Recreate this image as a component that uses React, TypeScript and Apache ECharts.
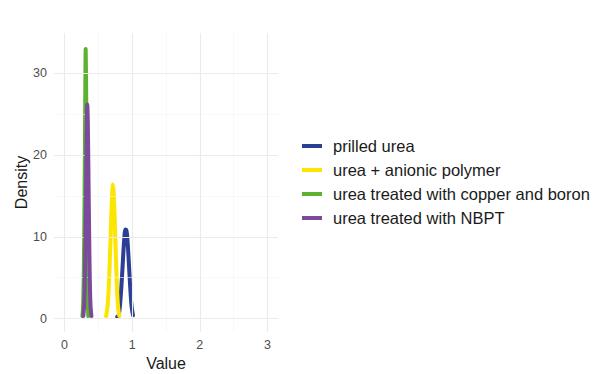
import React, { useEffect, useRef } from "react";
import * as echarts from "echarts";

// Series names (legend order)
const seriesNames = [
  "prilled urea",
  "urea + anionic polymer",
  "urea treated with copper and boron",
  "urea treated with NBPT",
];
const seriesColors = ["#2b3f96", "#fce500", "#5cb130", "#7b4a9c"];

// Density curves: [value, density]
const prilledUrea: [number, number][] = [
  [0.78, 0.2], [0.8, 0.4], [0.82, 1.6], [0.84, 3.8], [0.86, 6.6], [0.88, 9.4],
  [0.9, 10.9], [0.915, 10.8], [0.93, 9.7], [0.95, 7.0], [0.97, 4.0], [0.99, 1.6], [1.012, 0.4],
];
const anionicPolymer: [number, number][] = [
  [0.615, 0.3], [0.64, 1.8], [0.66, 5.0], [0.68, 9.5], [0.7, 14.5], [0.716, 16.4],
  [0.73, 15.0], [0.75, 10.0], [0.77, 5.0], [0.79, 1.6], [0.81, 0.3],
];
const copperBoron: [number, number][] = [
  [0.265, 0.3], [0.275, 1.5], [0.285, 5.5], [0.293, 11.5], [0.3, 18.5], [0.306, 26.0],
  [0.313, 33.0], [0.32, 28.0], [0.327, 19.0], [0.333, 11.5], [0.34, 5.0], [0.346, 1.8], [0.351, 0.3],
];
const nbpt: [number, number][] = [
  [0.278, 0.3], [0.29, 1.5], [0.3, 4.5], [0.31, 10.0], [0.32, 17.0], [0.33, 24.0],
  [0.337, 26.2], [0.345, 24.0], [0.355, 17.0], [0.365, 10.0], [0.375, 4.5], [0.385, 1.5], [0.398, 0.3],
];
const seriesData = [prilledUrea, anionicPolymer, copperBoron, nbpt];

// Axis ticks
const xTicks = [0, 1, 2, 3];
const xMinor = [0.5, 1.5, 2.5];
const yTicks = [0, 10, 20, 30];
const yMinor = [5, 15, 25];
const xRange = [-0.155, 3.155];
const yRange = [-1.65, 34.95];

const FONT = "Liberation Sans, Arial, Helvetica, sans-serif";

export default function App() {
  const ref = useRef<HTMLDivElement>(null);
  useEffect(() => {
    if (!ref.current) return;
    const chart = echarts.init(ref.current, undefined, { renderer: "svg" });
    const gridLines: any[] = [];
    xMinor.forEach((v) => gridLines.push({ xAxis: v, lineStyle: { color: "#f4f4f4", width: 0.6, type: "solid" } }));
    yMinor.forEach((v) => gridLines.push({ yAxis: v, lineStyle: { color: "#f4f4f4", width: 0.6, type: "solid" } }));
    xTicks.forEach((v) => gridLines.push({ xAxis: v, lineStyle: { color: "#ebebeb", width: 1.1, type: "solid" } }));
    yTicks.forEach((v) => gridLines.push({ yAxis: v, lineStyle: { color: "#ebebeb", width: 1.1, type: "solid" } }));

    chart.setOption({
      animation: false,
      backgroundColor: "#ffffff",
      textStyle: { fontFamily: FONT },
      grid: {
        left: 54,
        right: 329,
        top: 33,
        bottom: 42,
        containLabel: false,
        outerBoundsMode: "none",
      },
      legend: {
        orient: "vertical",
        left: 297,
        top: 132,
        icon: "rect",
        itemWidth: 20,
        itemHeight: 4,
        itemGap: 6,
        data: seriesNames,
        textStyle: {
          fontFamily: FONT,
          fontSize: 16.5,
          color: "#1a1a1a",
          lineHeight: 18,
          padding: [0, 0, 0, 6],
        },
      },
      xAxis: {
        type: "value",
        min: xRange[0],
        max: xRange[1],
        name: "Value",
        nameLocation: "middle",
        nameGap: 13,
        nameTextStyle: { fontFamily: FONT, fontSize: 16, color: "#1a1a1a" },
        axisLine: { show: false },
        axisTick: { show: false },
        splitLine: { show: false },
        axisLabel: {
          customValues: xTicks,
          color: "#4d4d4d",
          fontSize: 12.5,
          margin: 6,
          fontFamily: FONT,
        },
      },
      yAxis: {
        type: "value",
        min: yRange[0],
        max: yRange[1],
        name: "Density",
        nameLocation: "middle",
        nameGap: 22,
        nameTextStyle: { fontFamily: FONT, fontSize: 16, color: "#1a1a1a" },
        axisLine: { show: false },
        axisTick: { show: false },
        splitLine: { show: false },
        axisLabel: {
          customValues: yTicks,
          color: "#4d4d4d",
          fontSize: 12.5,
          margin: 7,
          fontFamily: FONT,
        },
      },
      series: [
        {
          type: "line",
          name: "__grid",
          data: [],
          z: 0,
          silent: true,
          markLine: {
            silent: true,
            symbol: ["none", "none"],
            label: { show: false },
            animation: false,
            lineStyle: { type: "solid" },
            data: gridLines,
          },
        },
        ...seriesNames.map((name, i) => ({
          type: "line",
          name,
          data: seriesData[i],
          showSymbol: false,
          smooth: 0.3,
          z: 2 + i,
          color: seriesColors[i],
          itemStyle: { color: seriesColors[i] },
          lineStyle: { color: seriesColors[i], width: 4, cap: "round", join: "round" },
        })),
      ],
    });
    return () => chart.dispose();
  }, []);
  return (
    <div
      ref={ref}
      style={{ position: "absolute", left: 0, top: 0, width: 607, height: 374 }}
    />
  );
}
